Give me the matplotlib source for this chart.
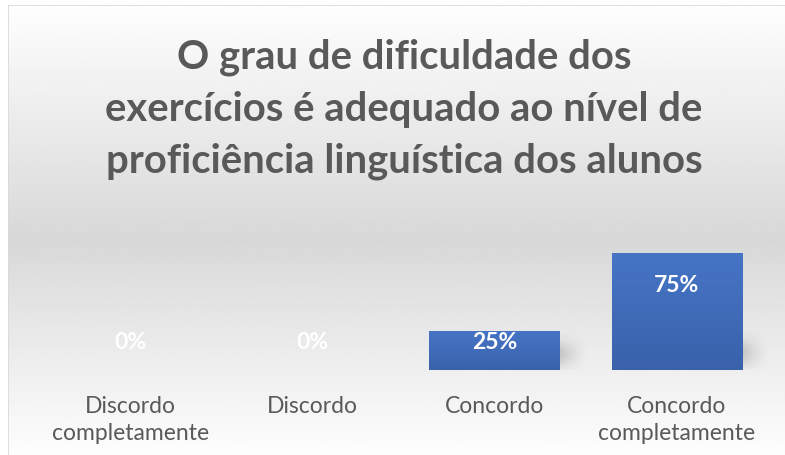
import matplotlib.pyplot as plt
from matplotlib.patches import Rectangle
from matplotlib.colors import LinearSegmentedColormap
import numpy as np

categories = ['Discordo\ncompletamente', 'Discordo', 'Concordo', 'Concordo\ncompletamente']
values = [0.00, 0.00, 0.25, 0.75]
labels = ['0%', '0%', '25%', '75%']
title = 'O grau de dificuldade dos\nexercícios é adequado ao nível de\nproficiência linguística dos alunos'

plt.rcParams['font.family'] = ['Lato', 'DejaVu Sans']

fig = plt.figure(figsize=(7.85, 4.56), dpi=100)

# background: white at the top, grey in the middle, white again at the bottom
bg = fig.add_axes([0, 0, 1, 1], zorder=0)
bg.set_axis_off()
yy = np.linspace(0, 1, 300)
shade = np.interp(yy, [0.0, 0.04, 0.53, 0.78, 1.0], [255, 252, 216, 236, 253]) / 255.0
bg.imshow(np.tile(shade[:, None], (1, 4)), cmap='gray', vmin=0, vmax=1,
          aspect='auto', extent=[0, 1, 1, 0], interpolation='bilinear')
bg.set_xlim(0, 1)
bg.set_ylim(1, 0)

# chart border
fig.patches.append(Rectangle((8 / 785, -0.05), 1.2, 1.05 - 6 / 456, transform=fig.transFigure,
                             fill=False, edgecolor='#d9d9d9', lw=1.2, zorder=1))
# white strip outside the border
fig.patches.append(Rectangle((0, 0), 8 / 785, 1, transform=fig.transFigure,
                             facecolor='white', edgecolor='none', zorder=1))
fig.patches.append(Rectangle((0, 1 - 6 / 456), 1, 6 / 456, transform=fig.transFigure,
                             facecolor='white', edgecolor='none', zorder=1))

ax = fig.add_axes([39 / 785, 0.1864, 729 / 785, 0.274], zorder=2)
ax.patch.set_alpha(0)
x = np.arange(len(categories))
bars = ax.bar(x, values, width=0.715, color='#4472c4', zorder=3)

bar_cmap = LinearSegmentedColormap.from_list('barfill', ['#3a62ab', '#4675c6'])
for b in bars:
    h = b.get_height()
    if h <= 0:
        continue
    x0, w = b.get_x(), b.get_width()
    # vertical gradient fill clipped to the bar
    im = ax.imshow(np.linspace(0, 1, 100)[:, None], cmap=bar_cmap, aspect='auto',
                   extent=[x0, x0 + w, 0, h], origin='lower', zorder=3.5)
    im.set_clip_path(b)
    # soft shadow on the right side of the bar
    sh_h = min(h * 0.9, 0.24)
    gx = np.linspace(0, 1, 60)
    gy = np.linspace(0, 1, 60)
    fx = (1 - gx) ** 1.4
    fy = np.exp(-((gy - 0.45) / 0.35) ** 2)
    alpha = 0.32 * np.outer(fy, fx)
    rgba = np.zeros((60, 60, 4))
    rgba[..., :3] = 0.45
    rgba[..., 3] = alpha
    ax.imshow(rgba, extent=[x0 + w, x0 + w + 0.15, 0, sh_h], origin='lower',
              aspect='auto', zorder=2.5, interpolation='bilinear')

for xi, v, lab in zip(x, values, labels):
    ax.text(xi, max(v - 0.2, 0.18), lab, ha='center', va='center', color='white',
            fontsize=16.5, fontweight='bold', zorder=5)

ax.set_xlim(-0.5, 3.5)
ax.set_ylim(0, 0.8)
ax.set_xticks(x)
ax.set_xticklabels(categories, fontsize=16.5, color='#595959', linespacing=1.38)
ax.tick_params(axis='x', length=0, pad=18)
ax.set_yticks([])
for s in ax.spines.values():
    s.set_visible(False)

fig.text(404 / 785, 1 - 109 / 456, title, ha='center', va='center', fontsize=28.8,
         fontweight='bold', color='#595959', linespacing=1.5, zorder=3)

fig.savefig('out.png', dpi=100)
